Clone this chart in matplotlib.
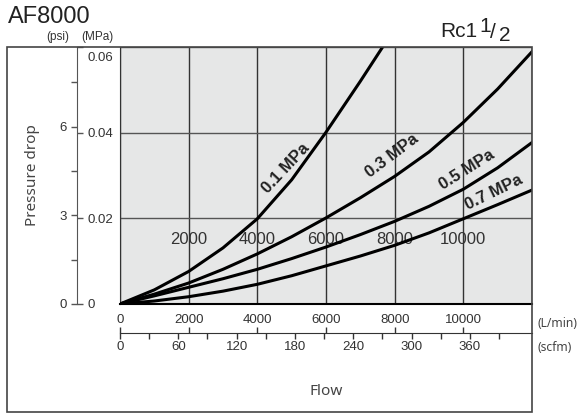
import numpy as np
import matplotlib.pyplot as plt
from matplotlib.patches import Rectangle
from matplotlib.transforms import ScaledTranslation

# data (flow in L/min, pressure drop in MPa)
flow = [0, 1000, 2000, 3000, 4000, 5000, 6000, 7000, 8000, 9000, 10000, 11000, 12000]
flow_01 = [0, 1000, 2000, 3000, 4000, 5000, 6000, 7000, 7650]
drop_01 = [0, 0.0033, 0.0076, 0.0131, 0.0199, 0.0290, 0.0401, 0.0520, 0.0600]
drop_03 = [0, 0.0023, 0.0049, 0.0081, 0.0117, 0.0157, 0.0201, 0.0248, 0.0298,
           0.0355, 0.0424, 0.0502, 0.0589]
drop_05 = [0, 0.0019, 0.0039, 0.0059, 0.0081, 0.0106, 0.0133, 0.0162, 0.0193,
           0.0228, 0.0268, 0.0318, 0.0377]
drop_07 = [0, 0.0007, 0.0017, 0.0030, 0.0046, 0.0066, 0.0089, 0.0112, 0.0137,
           0.0166, 0.0199, 0.0232, 0.0266]

curve_labels = ['0.1 MPa', '0.3 MPa', '0.5 MPa', '0.7 MPa']
label_pos = [(4835, 0.0317), (7932, 0.0345), (10115, 0.0313), (10893, 0.0260)]
label_rot = [47, 37, 32, 26]

inner_labels = [2000, 4000, 6000, 8000, 10000]
lmin_ticks = [0, 2000, 4000, 6000, 8000, 10000]
scfm_major = [0, 60, 120, 180, 240, 300, 360]
scfm_minor = [30, 90, 150, 210, 270, 330, 390]
psi_major = [0, 3, 6]
psi_minor = [1.5, 4.5, 7.5]
mpa_ticks = [0, 0.02, 0.04, 0.06]

PSI = 0.006895   # MPa per psi
SCFM = 28.3168   # L/min per scfm

W, H = 579, 415
def fx(px):
    return px / W
def fy(py):
    return 1 - py / H

sans = 'Liberation Sans'
noto = 'Noto Sans'

fig = plt.figure(figsize=(W / 100, H / 100), dpi=100)

# main plot
ax = fig.add_axes([fx(120), fy(304), fx(532) - fx(120), fy(47) - fy(304)])
ax.set_facecolor('#e6e7e7')
ax.set_xlim(0, 12000)
ax.set_ylim(0, 0.06)
ax.set_xticks(range(0, 12001, 2000))
ax.set_yticks(mpa_ticks)
ax.xaxis.grid(True, color='#333333', lw=1)
ax.yaxis.grid(True, color='#555555', lw=1)
ax.tick_params(length=0, labelbottom=False, labelleft=False)
for s in ['top', 'right']:
    ax.spines[s].set_visible(False)
ax.spines['left'].set_color('#333333')
ax.spines['bottom'].set_color('black')
ax.spines['bottom'].set_linewidth(1.5)

for v in inner_labels:
    ax.text(v, 0.015, str(v), ha='center', va='center', fontsize=12,
            color='#333333', family=sans, zorder=2)

ax.plot(flow_01, drop_01, color='black', lw=2.2, zorder=3)
ax.plot(flow, drop_03, color='black', lw=2.2, zorder=3)
ax.plot(flow, drop_05, color='black', lw=2.2, zorder=3)
ax.plot(flow, drop_07, color='black', lw=2.2, zorder=3)

for lab, (x, y), r in zip(curve_labels, label_pos, label_rot):
    ax.text(x, y, lab, rotation=r, rotation_mode='anchor', ha='center', va='center',
            fontsize=12, fontweight='bold', color='#222222', family=sans, zorder=4)

# psi axis (left ticks)
axp = fig.add_axes([fx(77), fy(304), 0.0001, fy(47) - fy(304)])
axp.set_facecolor('none')
axp.set_ylim(0, 0.06 / PSI)
axp.set_yticks(psi_major, [str(v) for v in psi_major])
axp.set_yticks(psi_minor, minor=True)
axp.set_xticks([])
for s in ['top', 'right', 'bottom']:
    axp.spines[s].set_visible(False)
axp.spines['left'].set_color('#555555')
axp.tick_params(axis='y', which='both', length=4.5, width=1, color='#555555',
                labelsize=9.5, labelcolor='#333333', pad=3)
for t in axp.get_yticklabels():
    t.set_family(sans)

# MPa axis (right ticks on same line)
axm = fig.add_axes([fx(77), fy(304), 0.0001, fy(47) - fy(304)])
axm.set_facecolor('none')
axm.set_ylim(0, 0.06)
axm.yaxis.tick_right()
axm.set_yticks(mpa_ticks, ['0', '0.02', '0.04', '0.06'])
axm.set_xticks([])
for s in axm.spines.values():
    s.set_visible(False)
axm.tick_params(axis='y', length=4.5, width=1, color='#555555',
                labelsize=9.5, labelcolor='#333333', pad=3)
for t in axm.get_yticklabels():
    t.set_family(sans)
top_lab = axm.get_yticklabels()[-1]
top_lab.set_transform(top_lab.get_transform() + ScaledTranslation(0, -9 / 100, fig.dpi_scale_trans))

# flow axes (L/min above, scfm below)
axl = fig.add_axes([fx(120), fy(333), fx(532) - fx(120), 0.0001])
axl.set_facecolor('none')
axl.set_xlim(0, 12000)
axl.xaxis.tick_top()
axl.set_xticks(lmin_ticks, [str(v) for v in lmin_ticks])
axl.set_yticks([])
for s in ['top', 'left', 'right']:
    axl.spines[s].set_visible(False)
axl.spines['bottom'].set_color('#333333')
axl.tick_params(axis='x', length=4, width=1, color='#333333',
                labelsize=9.5, labelcolor='#333333', pad=1)
for t in axl.get_xticklabels():
    t.set_family(sans)

axs = fig.add_axes([fx(120), fy(333), fx(532) - fx(120), 0.0001])
axs.set_facecolor('none')
axs.set_xlim(0, 12000 / SCFM)
axs.set_xticks(scfm_major, [str(v) for v in scfm_major])
axs.set_xticks(scfm_minor, minor=True)
axs.set_yticks([])
for s in axs.spines.values():
    s.set_visible(False)
axs.tick_params(axis='x', which='both', length=4, width=1, color='#333333',
                labelsize=9.5, labelcolor='#333333', pad=2)
for t in axs.get_xticklabels():
    t.set_family(sans)

# outer frame
fig.add_artist(Rectangle((fx(7), fy(412)), fx(532) - fx(7), fy(47) - fy(412),
                         transform=fig.transFigure, fill=False, ec='#444444', lw=1.2))

# texts
fig.text(fx(8), fy(23), 'AF8000', fontsize=17, va='baseline', family=sans, color='#222222')
fig.text(fx(440), fy(37), 'Rc1', fontsize=15, va='baseline', family=sans, color='#222222')
fig.text(fx(479), fy(32), '1', fontsize=15, va='baseline', family=sans, color='#222222')
fig.text(fx(490), fy(38), '/', fontsize=15, va='baseline', family=sans, color='#222222')
fig.text(fx(499), fy(41), '2', fontsize=15, va='baseline', family=sans, color='#222222')
fig.text(fx(58), fy(37), '(psi)', fontsize=8.5, ha='center', va='center', family=sans, color='#333333')
fig.text(fx(97), fy(37), '(MPa)', fontsize=8.5, ha='center', va='center', family=sans, color='#333333')
fig.text(fx(33), fy(175), 'Pressure drop', rotation=90, fontsize=11, ha='center', va='center',
         family=noto, color='#444444')
fig.text(fx(326), fy(391), 'Flow', fontsize=11, ha='center', va='center', family=noto, color='#444444')
fig.text(fx(537), fy(323), '(L/min)', fontsize=8.7, va='center', family=noto, color='#444444')
fig.text(fx(537), fy(347), '(scfm)', fontsize=8.7, va='center', family=noto, color='#444444')

fig.savefig('out.png', dpi=100)
